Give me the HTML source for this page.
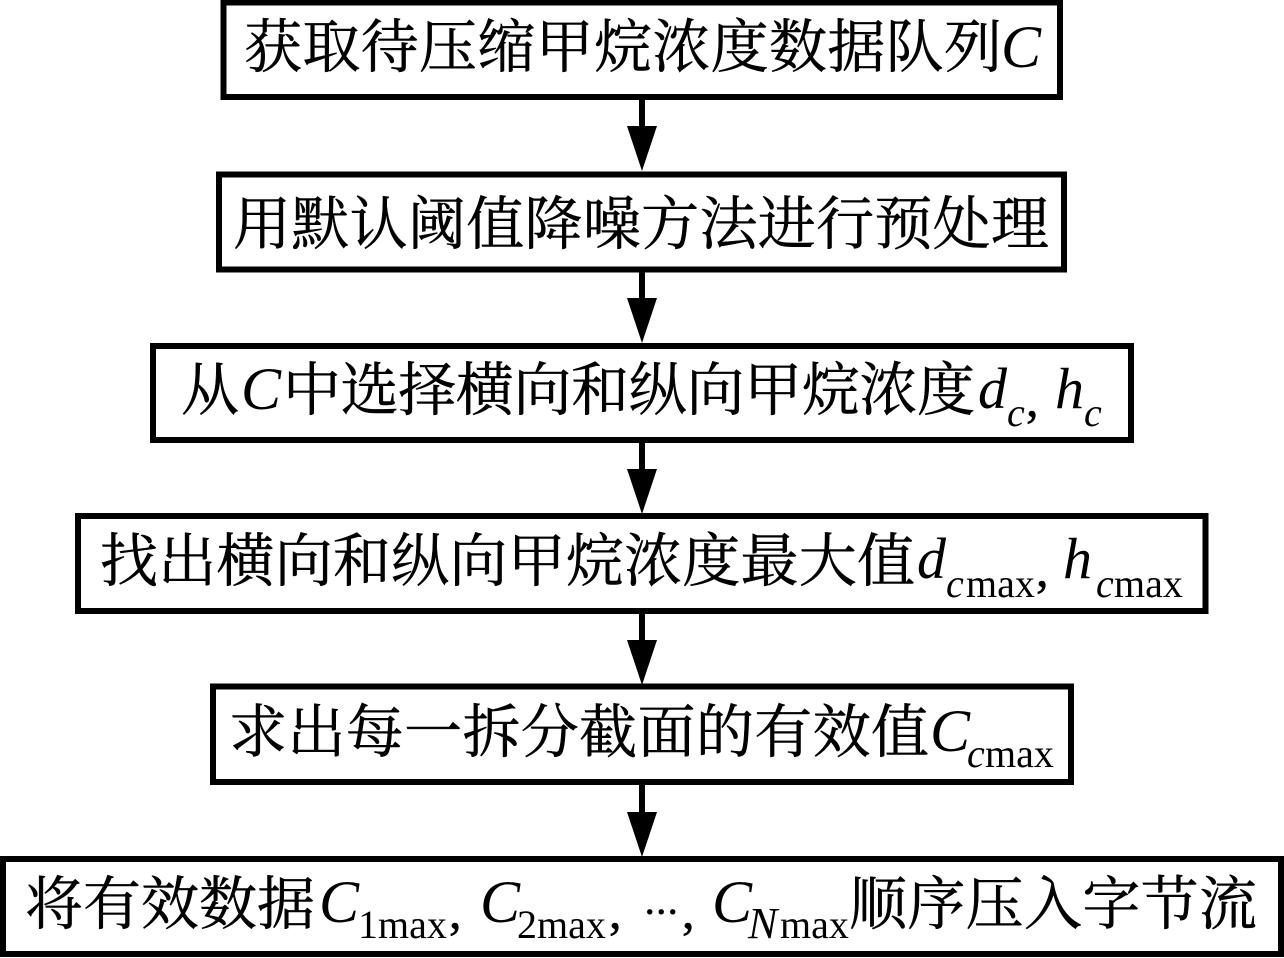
<!DOCTYPE html>
<html><head><meta charset="utf-8"><style>
html,body{margin:0;padding:0;background:#fff;width:1284px;height:958px;overflow:hidden}
svg{display:block}
text{fill:#000;font-family:"Liberation Serif","Noto Serif CJK SC",serif;font-size:58px}
.z{font-family:"Noto Serif CJK SC","Liberation Serif",serif;font-size:58px;stroke:#000;stroke-width:.5}
.i{font-style:italic}
.C{font-size:60px}
.s{font-size:40px}
.k{font-size:50px;stroke:#000;stroke-width:.6}
</style></head><body>
<svg width="1284" height="958" viewBox="0 0 1284 958" xmlns="http://www.w3.org/2000/svg">
<g fill="#fff" stroke="#000" stroke-width="6">
<rect x="223.500" y="2.500" width="836.500" height="94.500"/>
<rect x="219" y="174.500" width="845" height="95"/>
<rect x="153" y="346" width="978" height="94"/>
<rect x="78" y="516" width="1127.500" height="95"/>
<rect x="213" y="686.500" width="858" height="95.500"/>
<rect x="3" y="859" width="1278" height="95"/>
</g>
<g fill="#000">
<path d="M639 98h6v28h12l-15 45-15-45h12z"/>
<path d="M639 270h6v28h12l-15 45-15-45h12z"/>
<path d="M639 441h6v28h12l-15 45-15-45h12z"/>
<path d="M639 612h6v28h12l-15 45-15-45h12z"/>
<path d="M639 783h6v29h12l-15 45-15-45h12z"/>
</g>
<text class="z" x="244" y="67" textLength="758" lengthAdjust="spacing">获取待压缩甲烷浓度数据队列</text>
<text class="i C" x="1001" y="67">C</text>
<text class="z" x="233" y="244" textLength="816" lengthAdjust="spacing">用默认阈值降噪方法进行预处理</text>
<text class="z" x="181" y="410" textLength="58" lengthAdjust="spacing">从</text>
<text class="i C" x="241" y="409">C</text>
<text class="z" x="283" y="410" textLength="692" lengthAdjust="spacing">中选择横向和纵向甲烷浓度</text>
<text class="i" x="978" y="408">d</text><text class="i s" x="1007" y="426">c</text><text class="k" x="1026" y="416">,</text>
<text class="i" x="1055" y="408">h</text><text class="i s" x="1084" y="426">c</text>
<text class="z" x="100" y="581" textLength="815" lengthAdjust="spacing">找出横向和纵向甲烷浓度最大值</text>
<text class="i" x="917" y="578">d</text><text class="i s" x="946" y="597">c</text><text class="s" x="966" y="597">max</text><text class="k" x="1036" y="586">,</text>
<text class="i" x="1063" y="578">h</text><text class="i s" x="1096" y="597">c</text><text class="s" x="1114" y="597">max</text>
<text class="z" x="229" y="752" textLength="700" lengthAdjust="spacing">求出每一拆分截面的有效值</text>
<text class="i C" x="930" y="751">C</text><text class="i s" x="967" y="767">c</text><text class="s" x="985" y="767">max</text>
<text class="z" x="25" y="924" textLength="290" lengthAdjust="spacing">将有效数据</text>
<text class="i C" x="319" y="922">C</text><text class="s" x="358" y="938">1max</text><text class="k" x="449" y="928">,</text>
<text class="i C" x="480" y="922">C</text><text class="s" x="517" y="938">2max</text><text class="k" x="609" y="928">,</text>
<text x="644" y="914" style="font-size:46px">...</text><text class="k" x="682" y="928">,</text>
<text class="i C" x="712" y="922">C</text><text class="i s" x="748" y="938" style="font-size:44px">N</text><text class="s" x="780" y="938">max</text>
<text class="z" x="849" y="924" textLength="408" lengthAdjust="spacing">顺序压入字节流</text>
</svg>
</body></html>
